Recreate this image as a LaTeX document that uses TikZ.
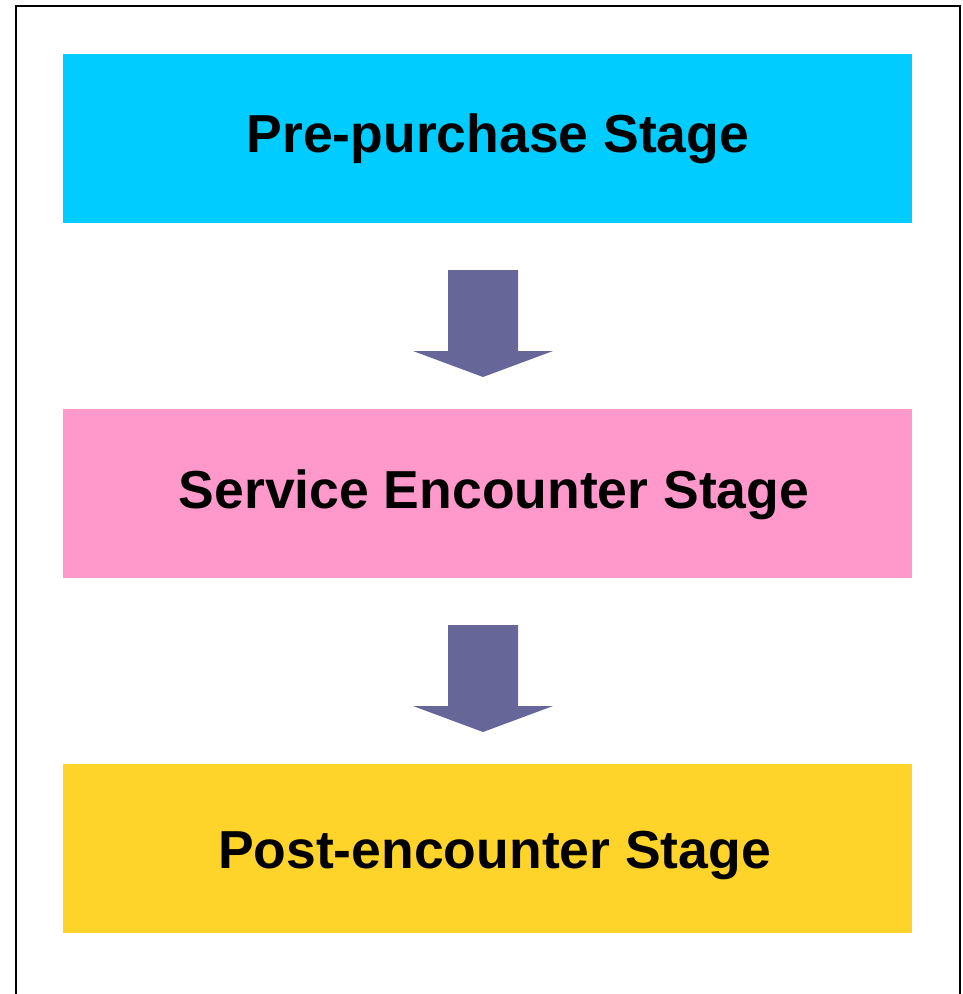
\documentclass[tikz,border=0pt]{standalone}
\usepackage{fontspec}
\setmainfont{Liberation Sans}
\definecolor{stageblue}{HTML}{00CCFF}
\definecolor{stagepink}{HTML}{FF99CC}
\definecolor{stageyellow}{HTML}{FFD42A}
\definecolor{arrowgray}{HTML}{666699}
\tikzset{
  stagebox/.style={minimum width=849pt, minimum height=169pt, inner sep=0pt},
  stagetext/.style={anchor=base, inner sep=0pt,
    font=\fontsize{53.5}{64}\selectfont\bfseries, text=black},
  downarrow/.style={fill=arrowgray, draw=none}
}
\begin{document}
\begin{tikzpicture}[x=1pt,y=-1pt]
\useasboundingbox (0,0) rectangle (963,994);
% outer frame, open at the bottom
\draw[line width=2.2pt] (16,994) -- (16,6) -- (960,6) -- (960,994);
% the three stages
\node[stagebox, fill=stageblue] (pre) at (487.5,138.5) {};
\node[stagebox, fill=stagepink] (enc) at (487.5,493.5) {};
\node[stagebox, fill=stageyellow] (post) at (487.5,848.5) {};
\node[stagetext] (pre-text) at (498,152.5) {Pre-purchase Stage};
\node[stagetext] (enc-text) at (494,508.5) {Service Encounter Stage};
\node[stagetext] (post-text) at (494.5,868) {Post-encounter Stage};
% block arrows between the stages
\foreach \dy in {0,355}{
  \fill[downarrow] (448,270+\dy) -- (518,270+\dy) -- (518,351+\dy) -- (553,351+\dy)
    -- (483,377+\dy) -- (413,351+\dy) -- (448,351+\dy) -- cycle;
}
\end{tikzpicture}
\end{document}
